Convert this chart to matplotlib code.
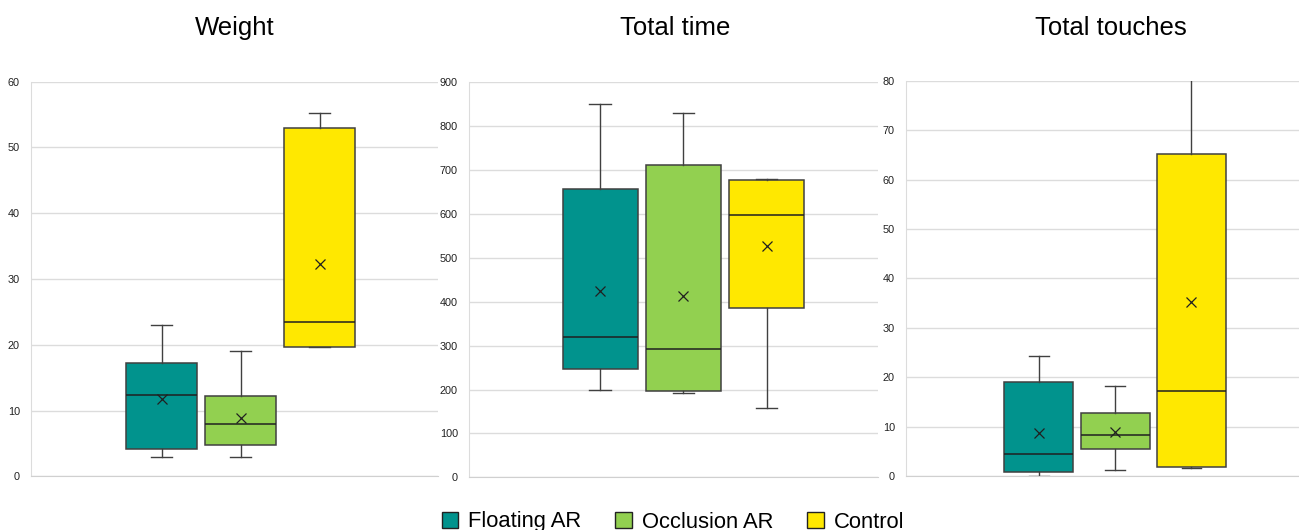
import matplotlib.pyplot as plt
from matplotlib.patches import Patch

plt.rcParams['font.family'] = ['Liberation Sans', 'DejaVu Sans']

# 组别与颜色
groups = ['Floating AR', 'Occlusion AR', 'Control']
colors = ['#01938D', '#92D050', '#FFE800']

# 每个面板的箱线统计: 下须, Q1, 中位数, Q3, 上须, 均值
weight_lo = [2.9, 3.0, 19.7]
weight_q1 = [4.2, 4.8, 19.7]
weight_med = [12.3, 7.9, 23.4]
weight_q3 = [17.2, 12.2, 53.0]
weight_hi = [23.0, 19.0, 55.2]
weight_mean = [11.7, 8.8, 32.3]

time_lo = [198, 193, 157]
time_q1 = [247, 196, 385]
time_med = [320, 292, 597]
time_q3 = [658, 712, 678]
time_hi = [851, 830, 680]
time_mean = [424, 412, 528]

touch_lo = [0.1, 1.3, 1.7]
touch_q1 = [0.9, 5.4, 1.8]
touch_med = [4.4, 8.2, 17.2]
touch_q3 = [19.0, 12.8, 65.1]
touch_hi = [24.3, 18.3, 88.0]
touch_mean = [8.7, 9.0, 35.3]

panels = [
    ('Weight', weight_lo, weight_q1, weight_med, weight_q3, weight_hi, weight_mean, 60, 10),
    ('Total time', time_lo, time_q1, time_med, time_q3, time_hi, time_mean, 900, 100),
    ('Total touches', touch_lo, touch_q1, touch_med, touch_q3, touch_hi, touch_mean, 80, 10),
]

W, H = 1299, 530
fig = plt.figure(figsize=(W / 100, H / 100), dpi=100)

# 轴位置（像素）：左, 右, 上, 下
boxes_px = [(31, 438, 81.7, 476.3), (469, 878, 82.3, 477.3), (906, 1299, 80.7, 476)]
xlims = [(-0.652, 4.5), (-0.573, 4.337), (-0.743, 4.41)]
widths = [0.911, 0.90, 0.904]
title_x = [235, 675, 1111]

for i, (title, lo, q1, med, q3, hi, mean, ymax, step) in enumerate(panels):
    l, r, t, b = boxes_px[i]
    ax = fig.add_axes([l / W, (H - b) / H, (r - l) / W, (b - t) / H])
    stats = []
    for k in range(3):
        stats.append({'whislo': lo[k], 'q1': q1[k], 'med': med[k], 'q3': q3[k],
                      'whishi': hi[k], 'mean': mean[k], 'fliers': []})
    edge = '#404040'
    bp = ax.bxp(stats, positions=[1, 2, 3], widths=widths[i], capwidths=0.26,
                patch_artist=True, showmeans=True, showfliers=False,
                boxprops=dict(edgecolor=edge, linewidth=1.1),
                medianprops=dict(color='#202020', linewidth=1.1),
                whiskerprops=dict(color=edge, linewidth=1.0),
                capprops=dict(color=edge, linewidth=1.0),
                meanprops=dict(marker='x', markeredgecolor='#202020', markersize=7,
                               markeredgewidth=0.9))
    for patch, c in zip(bp['boxes'], colors):
        patch.set_facecolor(c)
    ax.set_xlim(*xlims[i])
    ax.set_ylim(0, ymax)
    ax.set_yticks(range(0, ymax + 1, step))
    ax.set_xticks([])
    ax.grid(axis='y', color='#dcdcdc', linewidth=1.0)
    ax.set_axisbelow(True)
    for s in ['top', 'right']:
        ax.spines[s].set_visible(False)
    ax.spines['left'].set_color('#dcdcdc')
    ax.spines['bottom'].set_color('#d0d0d0')
    ax.tick_params(axis='y', length=0, pad=8, labelsize=7.8, labelcolor='#222222')
    fig.text(title_x[i] / W, (H - 28) / H, title, ha='center', va='center', fontsize=18.5)

handles = [Patch(facecolor=c, edgecolor='#222222', linewidth=1.0) for c in colors]
fig.legend(handles, groups, loc='center', bbox_to_anchor=(673 / W, 8 / H), ncol=3,
           frameon=False, fontsize=15.8, handlelength=0.75, handleheight=0.75,
           handletextpad=0.45, columnspacing=1.55)

fig.savefig('out.png', dpi=100)
